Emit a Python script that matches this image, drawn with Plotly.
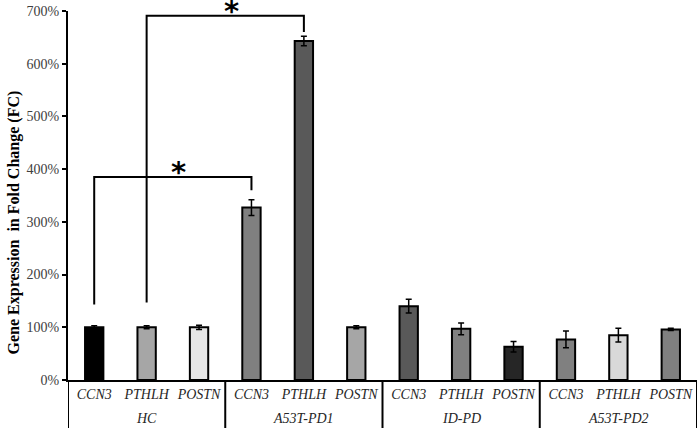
#bibliotecas utilizadas:
import plotly.graph_objects as go

#dados:
grupos = ["HC", "A53T-PD1", "ID-PD", "A53T-PD2"]
genes = ["CCN3", "PTHLH", "POSTN"]
valores = [100, 100, 100, 327, 643, 100, 140, 97, 63, 77, 85, 96]
erros = [3, 3, 4, 15, 9, 3, 13, 11, 10, 16, 13, 2]
cores = ["#000000", "#a6a6a6", "#e6e6e6",
         "#808080", "#595959", "#a6a6a6",
         "#595959", "#808080", "#262626",
         "#808080", "#d9d9d9", "#808080"]
ticks_y = [0, 100, 200, 300, 400, 500, 600, 700]
#comparações significativas: (barra inicial, barra final, altura do colchete, base inicial, base final)
comparacoes = [(0, 3, 385, 143, 360), (1, 4, 691, 147, 660)]

fonte = "Liberation Serif"
n = len(valores)
posicoes = list(range(n))
rotulos = [genes[i % 3] for i in posicoes]

fig = go.Figure()
fig.add_trace(go.Bar(
    x=posicoes, y=valores, width=0.35,
    marker=dict(color=cores, line=dict(color="black", width=2)),
    error_y=dict(type="data", array=erros, color="black", thickness=1.5, width=3),
    showlegend=False,
))

#colchetes de significância:
for a, b, topo, base_a, base_b in comparacoes:
    fig.add_trace(go.Scatter(
        x=[a, a, b, b], y=[base_a, topo, topo, base_b],
        mode="lines", line=dict(color="black", width=2),
        showlegend=False, hoverinfo="skip", cliponaxis=False,
    ))
    fig.add_annotation(x=(a + b) / 2, y=topo, text="<b>*</b>", showarrow=False,
                       yanchor="bottom", yshift=-14, xshift=6,
                       font=dict(family="DejaVu Sans", size=29, color="black"))

#nomes dos grupos e separadores:
for g, nome in enumerate(grupos):
    fig.add_annotation(x=g * 3 + 1, y=0, yref="paper", yanchor="middle", yshift=-38,
                       text="<i>" + nome + "</i>", showarrow=False,
                       font=dict(family=fonte, size=14, color="#262626"))
for g in range(len(grupos) + 1):
    fig.add_shape(type="line", x0=g * 3 - 0.5, x1=g * 3 - 0.5, y0=0, y1=-0.15, yref="paper",
                  line=dict(color="black", width=2))

#título do eixo y:
fig.add_annotation(x=0, xref="paper", xanchor="center", xshift=-54,
                   y=0.427, yref="paper", yanchor="middle",
                   text="<b>Gene Expression  in Fold Change (FC)</b>", textangle=-90,
                   showarrow=False, font=dict(family=fonte, size=16, color="black"))

fig.update_layout(
    width=699, height=428,
    margin=dict(l=68, r=2, t=11, b=48),
    plot_bgcolor="white", paper_bgcolor="white",
    bargap=0.65,
)
fig.update_xaxes(
    range=[-0.5, n - 0.5], tickvals=posicoes,
    ticktext=["<i>" + r + "</i>" for r in rotulos],
    tickfont=dict(family=fonte, size=14, color="#262626"),
    showline=True, linecolor="black", linewidth=2, ticks="",
    showgrid=False, zeroline=False, automargin=False,
)
fig.update_yaxes(
    range=[0, 700], tickvals=ticks_y, ticktext=[str(v) + "%" for v in ticks_y],
    tickfont=dict(family=fonte, size=14, color="#404040"),
    showline=True, linecolor="black", linewidth=2, ticks="outside", ticklen=4,
    tickcolor="black", tickwidth=2, showgrid=False, zeroline=False, automargin=False,
)

#remove a margem padrão da página:
fig.write_html("out.html", config={"displayModeBar": False},
               post_script="document.body.style.margin='0';")
